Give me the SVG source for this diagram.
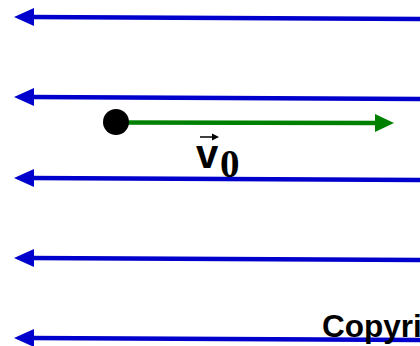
<svg xmlns="http://www.w3.org/2000/svg" width="420" height="346" viewBox="0 0 420 346">
<style>
.blue{stroke:#0000CC;stroke-width:4.5;fill:none}
.bh{fill:#0000CC}
.lbl{font-family:"Liberation Sans",Arial,sans-serif;font-weight:bold}
</style>
<rect width="420" height="346" fill="#fff"/>
<g id="connectors">
<g id="field1"><line class="blue" x1="30" y1="17" x2="420" y2="19"/><polygon class="bh" points="14,17 34,8 34,26"/></g>
<g id="field2"><line class="blue" x1="30" y1="97" x2="420" y2="99"/><polygon class="bh" points="14,97 34,88 34,106"/></g>
<g id="field3"><line class="blue" x1="30" y1="178" x2="420" y2="180"/><polygon class="bh" points="14,178 34,169 34,187"/></g>
<g id="field4"><line class="blue" x1="30" y1="258" x2="420" y2="260"/><polygon class="bh" points="14,258 34,249 34,267"/></g>
<g id="field5"><line class="blue" x1="30" y1="338" x2="420" y2="340"/><polygon class="bh" points="14,338 34,329 34,347"/></g>
<g id="velocity"><line x1="116" y1="122.5" x2="378" y2="123" stroke="#008000" stroke-width="4.5"/><polygon fill="#008000" points="394,123 375,114 375,132"/></g>
</g>
<g id="particle"><circle cx="116" cy="122" r="13" fill="#000"/></g>
<g id="label-v0">
<text x="196" y="168" class="lbl" font-size="40">v</text>
<text x="220" y="177" font-family="Liberation Serif,'Times New Roman',serif" font-weight="bold" font-size="39">0</text>
<line x1="200" y1="137" x2="214" y2="137" stroke="#000" stroke-width="1.5"/>
<polygon points="219,137 212,133.5 212,140.5" fill="#000"/>
</g>
<g id="copyright"><text x="322" y="337" class="lbl" font-size="31.5">Copyri</text></g>
</svg>
